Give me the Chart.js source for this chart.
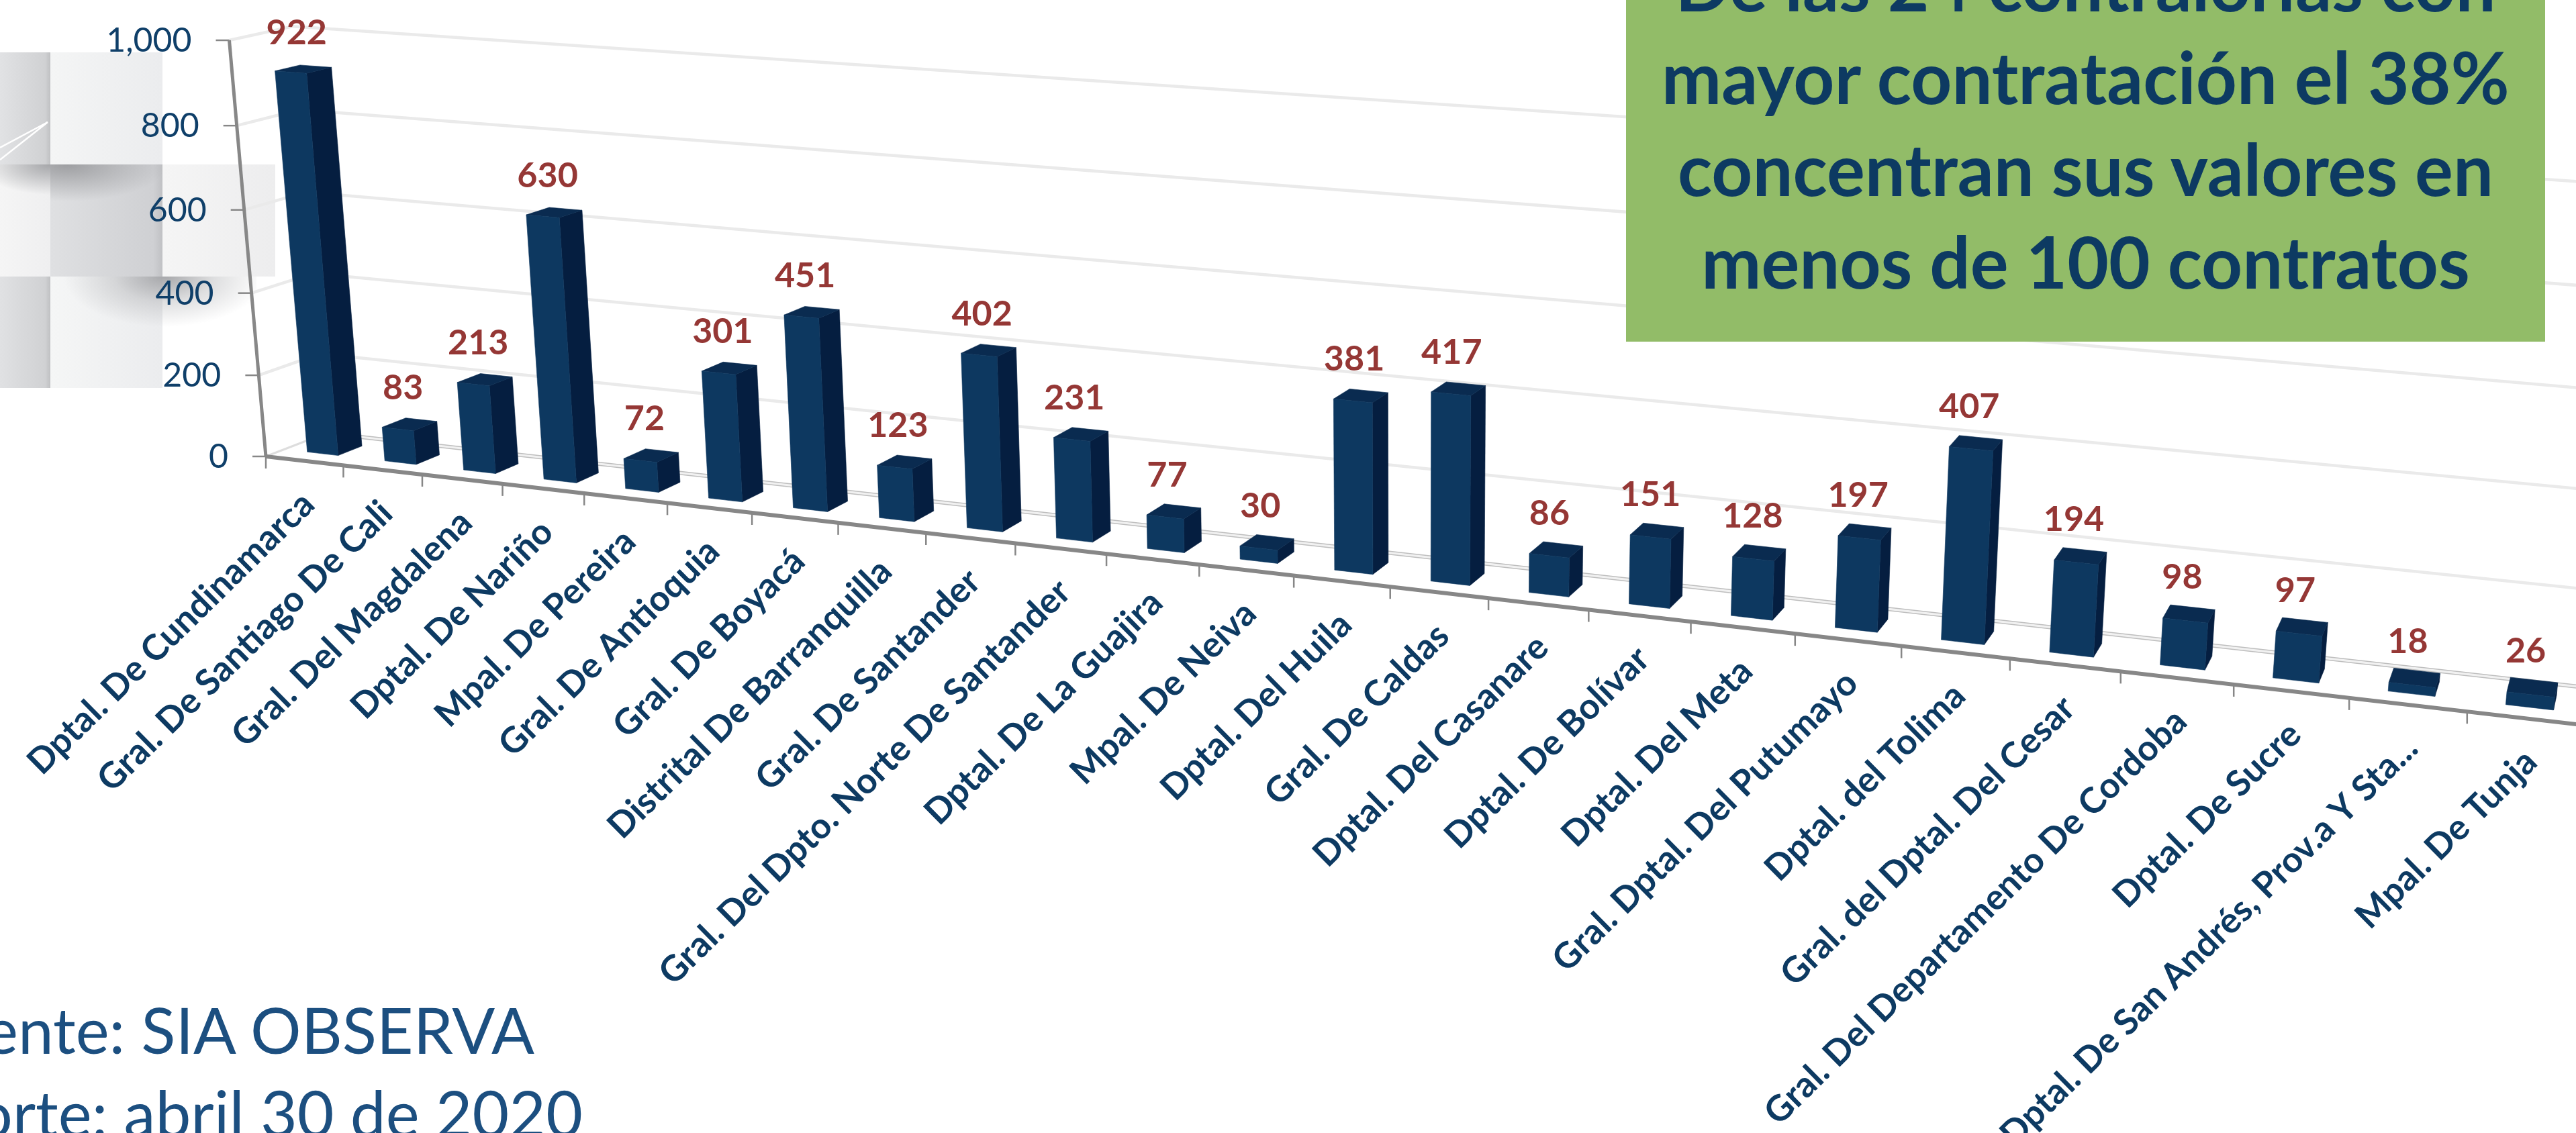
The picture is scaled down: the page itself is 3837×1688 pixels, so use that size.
<!DOCTYPE html>
<html lang="es">
<head>
<meta charset="utf-8">
<style>
html,body{margin:0;padding:0;background:#fff;width:3837px;height:1688px;overflow:hidden}
#stage{position:absolute;left:0;top:0;width:3837px;height:1688px;overflow:hidden}
.tile{position:absolute;overflow:hidden}
.shadow{position:absolute;border-radius:50%}
canvas{position:absolute;left:0;top:0}
#box{position:absolute;left:2422px;top:0;width:1369px;height:509px;background:#92BC68;overflow:hidden}
.cl{position:absolute;left:0;width:100%;text-align:center;font:700 106.5px Lato;color:#0D3A62;white-space:nowrap;line-height:1}
.foot{position:absolute;font:400 94.5px Lato;color:#1C4F80;white-space:nowrap;line-height:1}
</style>
<script src="https://cdn.jsdelivr.net/npm/chart.js@4"></script>
</head>
<body>
<div id="stage">
  <div class="tile" style="left:0;top:78px;width:75px;height:167px;background:linear-gradient(90deg,#e1e2e4 0,#d0d1d3 90%,#bfc0c2 100%)"></div>
  <div class="tile" style="left:75px;top:78px;width:167px;height:167px;background:linear-gradient(90deg,#f4f5f5,#ebecee)"></div>
  <div class="tile" style="left:0;top:245px;width:75px;height:167px;background:linear-gradient(90deg,#f5f5f5,#efeff0)"><div class="shadow" style="left:-30px;top:-45px;width:210px;height:90px;background:radial-gradient(closest-side,#a5a6a9,rgba(165,166,169,0))"></div></div>
  <div class="tile" style="left:75px;top:245px;width:167px;height:167px;background:linear-gradient(90deg,#dfe0e2,#cfd0d3 92%,#c0c1c4 100%)"><div class="shadow" style="left:-125px;top:-55px;width:300px;height:110px;background:radial-gradient(closest-side,#9d9ea1,rgba(157,158,161,0))"></div></div>
  <div class="tile" style="left:242px;top:245px;width:168px;height:167px;background:linear-gradient(90deg,#f5f5f5,#ededee)"></div>
  <div class="tile" style="left:0;top:412px;width:75px;height:166px;background:linear-gradient(90deg,#e0e1e3,#d0d1d3 90%,#bfc0c2 100%)"></div>
  <div class="tile" style="left:75px;top:412px;width:167px;height:166px;background:linear-gradient(90deg,#f5f6f6,#ebecee)"><div class="shadow" style="left:20px;top:-75px;width:300px;height:150px;background:radial-gradient(closest-side,rgba(163,164,167,.95),rgba(163,164,167,.35) 50%,rgba(163,164,167,0))"></div></div>
  <div class="tile" style="left:242px;top:412px;width:140px;height:90px"><div class="shadow" style="left:-147px;top:-75px;width:300px;height:150px;background:radial-gradient(closest-side,rgba(163,164,167,.95),rgba(163,164,167,.35) 50%,rgba(163,164,167,0))"></div></div>
  <svg style="position:absolute;left:0;top:0" width="80" height="260"><path d="M0 220L71 182L0 238" fill="none" stroke="#fff" stroke-width="2.5"/></svg>
  <canvas id="c" width="3837" height="1688"></canvas>
  <div id="box">
    <div class="cl" style="top:-77px">De las 24 contralorías con</div>
    <div class="cl" style="top:61px">mayor contratación el 38%</div>
    <div class="cl" style="top:198px">concentran sus valores en</div>
    <div class="cl" style="top:336px">menos de 100 contratos</div>
  </div>
  <div class="foot" style="right:3041px;top:1487px">Fuente: SIA OBSERVA</div>
  <div class="foot" style="right:2969px;top:1611px">Corte: abril 30 de 2020</div>
</div>
<script>
const categories = [
  "Dptal. De Cundinamarca","Gral. De Santiago De Cali","Gral. Del Magdalena","Dptal. De Nariño",
  "Mpal. De Pereira","Gral. De Antioquia","Gral. De Boyacá","Distrital De Barranquilla",
  "Gral. De Santander","Gral. Del Dpto. Norte De Santander","Dptal. De La Guajira","Mpal. De Neiva",
  "Dptal. Del Huila","Gral. De Caldas","Dptal. Del Casanare","Dptal. De Bolívar",
  "Dptal. Del Meta","Gral. Dptal. Del Putumayo","Dptal. del Tolima","Gral. del Dptal. Del Cesar",
  "Gral. Del Departamento De Cordoba","Dptal. De Sucre","Dptal. De San Andrés, Prov.a Y Sta...","Mpal. De Tunja"
];
const contratos = [922,83,213,630,72,301,451,123,402,231,77,30,381,417,86,151,128,197,407,194,98,97,18,26];

// Homogeneous 3-D camera: i = category units, v = share of the value axis, d = floor depth
function project(i, v, d) {
  const w = 1 - 0.00856 * i - 0.031 * v + 0.0243 * d;
  return [
    (396 + 111.1 * i - 65.1 * v + 101.8 * d) / w,
    (680 + 7.456 * i - 621.86 * v - 19.05 * d) / w
  ];
}
function line(ctx, a, b, color, width) {
  ctx.beginPath(); ctx.moveTo(a[0], a[1]); ctx.lineTo(b[0], b[1]);
  ctx.strokeStyle = color; ctx.lineWidth = width; ctx.stroke();
}
function poly(ctx, pts, color) {
  ctx.beginPath();
  pts.forEach((p, k) => k ? ctx.lineTo(p[0], p[1]) : ctx.moveTo(p[0], p[1]));
  ctx.closePath(); ctx.fillStyle = color; ctx.fill();
  ctx.strokeStyle = color; ctx.lineWidth = 0.6; ctx.stroke();
}
const DEPTH0 = 0.3, DEPTH1 = 0.7, AXIS = '#878787';

const perspective = {
  id: 'perspective',
  beforeDatasetsDraw(chart) {
    const ctx = chart.ctx, area = chart.chartArea, ys = chart.scales.y, xs = chart.scales.x;
    const n = categories.length;
    const toV = py => (area.bottom - py) / area.height;
    const toI = px => (px - area.left) / area.width * n;
    ctx.save();
    ctx.lineCap = 'butt';

    // walls and floor
    ys.ticks.forEach((t, k) => {
      const v = toV(ys.getPixelForTick(k));
      if (v > 0.001) {
        line(ctx, project(0, v, 0), project(0, v, 1), '#EAEAEA', 4.5);
        line(ctx, project(0, v, 1), project(n, v, 1), '#EAEAEA', 4.5);
      }
    });
    line(ctx, project(0, 0, 0), project(0, 0, 1), '#DDDDDD', 3);
    line(ctx, project(0, 0, 1), project(n, 0, 1), '#BEBEBE', 6);
    line(ctx, project(0, 0, 1), project(n, 0, 1), '#F1F1F1', 3);

    // value axis
    line(ctx, project(0, 0, 0), project(0, 1, 0), AXIS, 5);
    ctx.font = '400 50px Lato';
    ctx.fillStyle = '#0F3F69';
    ctx.textAlign = 'right';
    ctx.textBaseline = 'middle';
    ys.ticks.forEach((t, k) => {
      const p = project(0, toV(ys.getPixelForTick(k)), 0);
      line(ctx, [p[0] - 20, p[1]], [p[0], p[1]], AXIS, 2.5);
      ctx.fillText(t.label, p[0] - 56, p[1] + 1);
    });

    // category axis
    line(ctx, project(0, 0, 0), project(n, 0, 0), AXIS, 6);
    for (let k = 0; k <= n; k++) {
      const p = project(k, 0, 0);
      line(ctx, p, [p[0], p[1] + 18], AXIS, 2.5);
    }
    ctx.font = '700 53px Lato';
    ctx.fillStyle = '#0D3A62';
    ctx.textAlign = 'right';
    ctx.textBaseline = 'middle';
    xs.ticks.forEach((t, k) => {
      const p = project(toI(xs.getPixelForTick(k)), 0, 0);
      ctx.save();
      ctx.translate(p[0] + 6, p[1] + 56);
      ctx.rotate(-44.5 * Math.PI / 180);
      ctx.fillText(categories[t.value], 0, 0);
      ctx.restore();
    });

    // bars
    const meta = chart.getDatasetMeta(0);
    meta.data.forEach(el => {
      const i0 = toI(el.x - el.width / 2), i1 = toI(el.x + el.width / 2);
      const v = toV(el.y), b = toV(el.base);
      const fbl = project(i0, b, DEPTH0), fbr = project(i1, b, DEPTH0);
      const ftl = project(i0, v, DEPTH0), ftr = project(i1, v, DEPTH0);
      const bbr = project(i1, b, DEPTH1), btr = project(i1, v, DEPTH1), btl = project(i0, v, DEPTH1);
      poly(ctx, [fbr, bbr, btr, ftr], '#051E40');
      poly(ctx, [ftl, ftr, btr, btl], '#0A2B50');
      poly(ctx, [fbl, fbr, ftr, ftl], '#0D3860');
    });

    // value labels
    ctx.font = '700 52px Lato';
    ctx.fillStyle = '#953735';
    ctx.textAlign = 'center';
    ctx.textBaseline = 'middle';
    meta.data.forEach((el, k) => {
      const p = project(toI(el.x), toV(el.y), 0.5);
      ctx.fillText(String(contratos[k]), p[0] - 10, p[1] - 54);
    });
    ctx.restore();
    return false;
  }
};

new Chart(document.getElementById('c'), {
  type: 'bar',
  data: {
    labels: categories,
    datasets: [{ label: 'Contratos', data: contratos, backgroundColor: '#0D3860', barPercentage: 0.4, categoryPercentage: 1 }]
  },
  options: {
    responsive: false,
    animation: false,
    layout: { padding: 0 },
    plugins: { legend: { display: false }, tooltip: { enabled: false } },
    scales: {
      x: { display: false, ticks: { autoSkip: false } },
      y: { display: false, min: 0, max: 1000, ticks: { stepSize: 200, callback: v => v.toLocaleString('en-US') } }
    }
  },
  plugins: [perspective]
});
</script>
</body>
</html>
